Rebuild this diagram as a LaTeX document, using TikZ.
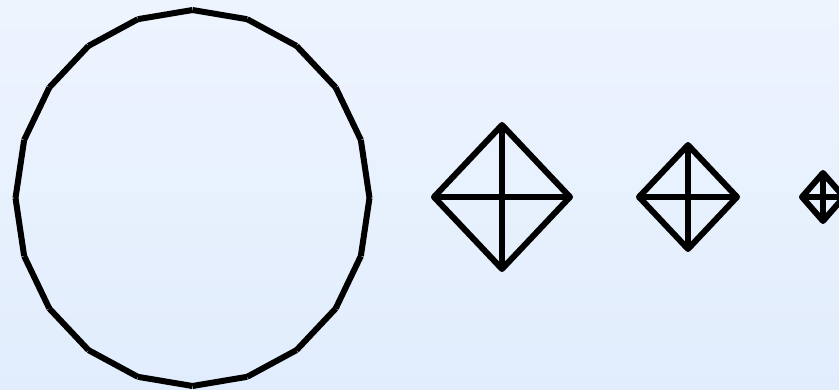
\documentclass[tikz,border=0pt]{standalone}
\begin{document}
\begin{tikzpicture}[x=1pt,y=-1pt,
  seg/.style={line width=6pt,line cap=butt,black},
  dseg/.style={line width=6pt,line cap=butt,line join=round,black}]
\definecolor{bgtop}{RGB}{238,244,254}
\definecolor{bgbot}{RGB}{225,237,253}
\shade[top color=bgtop,bottom color=bgbot] (0,0) rectangle (839,389);
\useasboundingbox (0,0) rectangle (839,389);
% 20-gon
\foreach \i in {0,...,19}{
  \coordinate (p\i) at ({192.5+177*cos(90+18*\i)},{198-188*sin(90+18*\i)});
}
\foreach \i [evaluate=\i as \j using {int(mod(\i+1,20))}] in {0,...,19}{
  \draw[seg] (p\i) -- (p\j);
}
% diamonds
\foreach \n/\cx/\hw/\hh in {a/502/68/72, b/688/49/52, c/823/21/24}{
  \coordinate (\n L) at (\cx-\hw,197);
  \coordinate (\n R) at (\cx+\hw,197);
  \coordinate (\n T) at (\cx,197-\hh);
  \coordinate (\n B) at (\cx,197+\hh);
  \draw[dseg] (\n L) -- (\n T) -- (\n R) -- (\n B) -- cycle;
  \draw[dseg] (\n L) -- (\n R);
  \draw[dseg] (\n T) -- (\n B);
}
\end{tikzpicture}
\end{document}
